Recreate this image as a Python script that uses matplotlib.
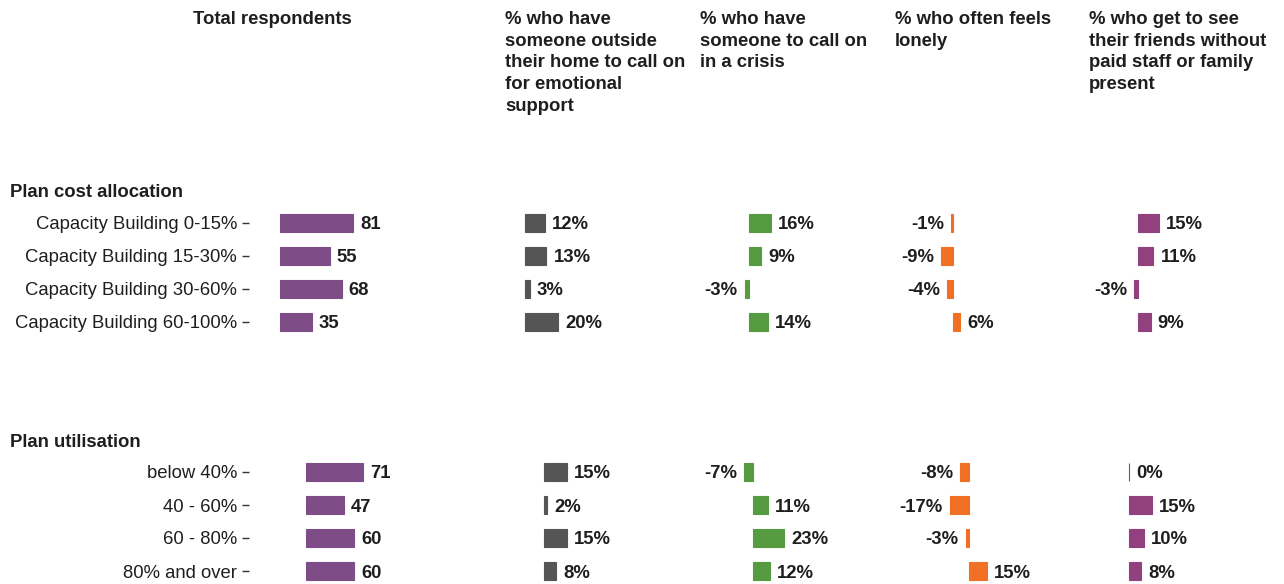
import matplotlib
matplotlib.use('Agg')
import matplotlib.pyplot as plt

plt.rcParams['font.family'] = ['Liberation Sans', 'DejaVu Sans']

# ─── data ────────────────────────────────────────────────────────────────────
headers = [
    'Total respondents',
    '% who have\nsomeone outside\ntheir home to call on\nfor emotional\nsupport',
    '% who have\nsomeone to call on\nin a crisis',
    '% who often feels\nlonely',
    '% who get to see\ntheir friends without\npaid staff or family\npresent',
]

cost_labels = ['Capacity Building 0-15%', 'Capacity Building 15-30%',
               'Capacity Building 30-60%', 'Capacity Building 60-100%']
cost_total = [81, 55, 68, 35]
cost_emotional = [12, 13, 3, 20]
cost_crisis = [16, 9, -3, 14]
cost_lonely = [-1, -9, -4, 6]
cost_friends = [15, 11, -3, 9]

util_labels = ['below 40%', '40 - 60%', '60 - 80%', '80% and over']
util_total = [71, 47, 60, 60]
util_emotional = [15, 2, 15, 8]
util_crisis = [-7, 11, 23, 12]
util_lonely = [-8, -17, -3, 15]
util_friends = [0, 15, 10, 8]

colors = ['#7e4d87', '#555555', '#579b41', '#f07125', '#93407f']

# ─── layout (pixels) ─────────────────────────────────────────────────────────
W, H = 1284, 584
col_edges = [249, 500, 695, 890, 1085, 1284]
header_x = [193, 505, 700, 895, 1089]
FS = 13.3
TXT = '#1e1e1e'

panels = [
    dict(title='Plan cost allocation', title_y=197, row_top=206.5,
         labels=cost_labels,
         series=[cost_total, cost_emotional, cost_crisis, cost_lonely, cost_friends],
         zero=[280, 525, 749, 952.5, 1138.3],
         scale=[0.905, 1.65, 1.38, 1.3, 1.38],
         fmt=['{:d}', '{:d}%', '{:d}%', '{:d}%', '{:d}%']),
    dict(title='Plan utilisation', title_y=447, row_top=455.5,
         labels=util_labels,
         series=[util_total, util_emotional, util_crisis, util_lonely, util_friends],
         zero=[306, 544.3, 753.3, 969.3, 1129],
         scale=[0.807, 1.49, 1.35, 1.15, 1.51],
         fmt=['{:d}', '{:d}%', '{:d}%', '{:d}%', '{:d}%']),
]
ROW = 33.0

fig = plt.figure(figsize=(W / 100, H / 100), dpi=100)

for x, h in zip(header_x, headers):
    fig.text(x / W, 1 - 11 / H, h, ha='left', va='top', fontsize=FS,
             fontweight='bold', color=TXT, linespacing=1.36)

for p in panels:
    fig.text(10 / W, 1 - p['title_y'] / H, p['title'], ha='left',
             va='baseline', fontsize=FS, fontweight='bold', color=TXT)
    n = len(p['labels'])
    top = p['row_top']
    bottom = top + ROW * n
    for j, vals in enumerate(p['series']):
        left, right = col_edges[j], col_edges[j + 1]
        ax = fig.add_axes([left / W, 1 - bottom / H, (right - left) / W,
                           (bottom - top) / H])
        z, s = p['zero'][j], p['scale'][j]
        ax.set_xlim((left - z) / s, (right - z) / s)
        ax.set_ylim(n - 0.5, -0.5)
        ypos = list(range(n))
        ax.barh(ypos, vals, height=0.52, color=colors[j],
                edgecolor=colors[j], linewidth=0.8)
        for y, v in zip(ypos, vals):
            off = 7 if v >= 0 else -7
            ax.annotate(p['fmt'][j].format(v), (v, y), xytext=(off, 0),
                        textcoords='offset pixels',
                        ha='left' if v >= 0 else 'right',
                        va='center_baseline',
                        fontsize=FS, fontweight='bold', color=TXT)
        for sp in ax.spines.values():
            sp.set_visible(False)
        ax.set_xticks([])
        if j == 0:
            ax.set_yticks(ypos)
            ax.set_yticklabels(p['labels'], fontsize=FS, color=TXT,
                               va='center_baseline')
            ax.tick_params(axis='y', length=5, width=1.0, color='#333333',
                           pad=3.5)
        else:
            ax.set_yticks([])
        ax.patch.set_alpha(0)

fig.savefig('out.png', dpi=100)
